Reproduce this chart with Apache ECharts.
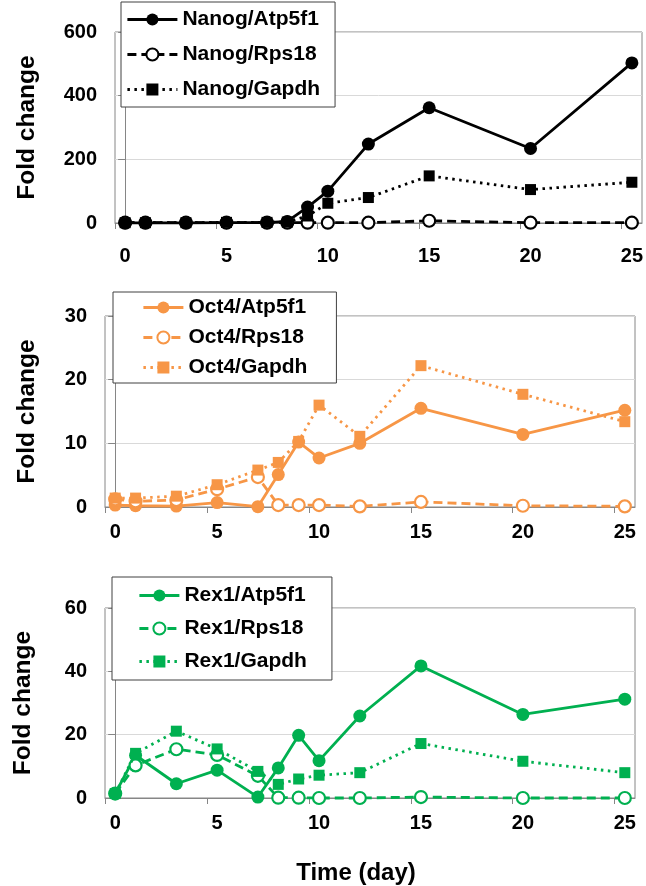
<!DOCTYPE html>
<html>
<head>
<meta charset="utf-8">
<script src="https://cdn.jsdelivr.net/npm/echarts@6/dist/echarts.min.js"></script>
<style>
html,body{margin:0;padding:0;background:#fff;}
#chart{width:646px;height:886px;}
</style>
</head>
<body>
<div id="chart"></div>
<script>
// ---- data ----
const days = [0, 1, 3, 5, 7, 8, 9, 10, 12, 15, 20, 25];

const nanogAtp5f1 = [0.5, 0.5, 0.5, 1, 1, 5, 50, 100, 248, 362, 234, 503];
const nanogRps18  = [1, 1, 1, 1, 1, 1, 1, 1, 1, 7, 1, 1];
const nanogGapdh  = [1, 1, 1, 2, 2, 3, 22, 62, 80, 148, 105, 128];

const oct4Atp5f1 = [0.3, 0.2, 0.15, 0.7, 0.05, 5.1, 10.2, 7.7, 10.0, 15.5, 11.4, 15.2];
const oct4Rps18  = [1.2, 0.9, 1.1, 2.8, 4.7, 0.3, 0.3, 0.3, 0.1, 0.8, 0.2, 0.1];
const oct4Gapdh  = [1.4, 1.4, 1.7, 3.5, 5.8, 7.0, 10.3, 16.0, 11.1, 22.2, 17.7, 13.4];

const rex1Atp5f1 = [1.4, 13.5, 4.5, 8.8, 0.3, 9.5, 19.8, 11.8, 25.9, 41.7, 26.4, 31.2];
const rex1Rps18  = [1.4, 10.3, 15.4, 13.6, 7.0, 0.1, 0.1, 0, 0, 0.3, 0, 0];
const rex1Gapdh  = [1.4, 14.1, 21.1, 15.5, 8.4, 4.3, 6.0, 7.2, 8.0, 17.2, 11.6, 8.0];

const xLabelValues = [0, 5, 10, 15, 20, 25];
const xTickValues = [-0.5, 4.5, 9.5, 14.5, 19.5, 24.5];

const panels = [
  { names: ['Nanog/Atp5f1', 'Nanog/Rps18', 'Nanog/Gapdh'], values: [nanogAtp5f1, nanogRps18, nanogGapdh], yMax: 600, yStep: 200, color: '#000000' },
  { names: ['Oct4/Atp5f1', 'Oct4/Rps18', 'Oct4/Gapdh'], values: [oct4Atp5f1, oct4Rps18, oct4Gapdh], yMax: 30, yStep: 10, color: '#f79646' },
  { names: ['Rex1/Atp5f1', 'Rex1/Rps18', 'Rex1/Gapdh'], values: [rex1Atp5f1, rex1Rps18, rex1Gapdh], yMax: 60, yStep: 20, color: '#00b050' }
];
const yAxisTitle = 'Fold change';
const xAxisTitle = 'Time (day)';

// ---- layout ----
const FONT = '"Liberation Sans", Arial, sans-serif';
const grids = [
  { left: 115, top: 32, width: 528, height: 191 },
  { left: 105, top: 316, width: 530, height: 191 },
  { left: 105, top: 608, width: 530, height: 190 }
];
const xLabelMargin = [23, 15, 15];
const legendLayouts = [
  { left: 121, top: 2, itemWidth: 50, itemGap: 14, padding: [7, 15, 7, 5] },
  { left: 113, top: 292, itemWidth: 40, itemGap: 9, padding: [5, 29, 5, 29] },
  { left: 112, top: 577, itemWidth: 40, itemGap: 12, padding: [8, 25, 8, 26] }
];

const styles = [
  { symbol: 'circle', size: 13, dash: 'solid', fill: null },
  { symbol: 'circle', size: 12, dash: [9, 5], fill: '#ffffff' },
  { symbol: 'rect', size: 11, dash: [2.5, 4.5], fill: null }
];
const LINE_W = 2.8;

const axisGray = '#868686';
const option = {
  backgroundColor: '#ffffff',
  animation: false,
  grid: grids.map(g => Object.assign({ show: true, borderColor: axisGray, borderWidth: 1, backgroundColor: 'transparent' }, g)),
  xAxis: grids.map((g, i) => ({
    type: 'value', gridIndex: i, min: -0.5, max: 25.5,
    axisLine: { show: true, onZero: false, lineStyle: { color: axisGray, width: 1 } },
    axisTick: { show: true, customValues: xTickValues, length: 6, lineStyle: { color: axisGray } },
    axisLabel: { customValues: xLabelValues, margin: xLabelMargin[i], color: '#000', fontSize: 20, fontWeight: 'bold', fontFamily: FONT },
    splitLine: { show: false }
  })),
  yAxis: panels.map((p, i) => ({
    type: 'value', gridIndex: i, min: 0, max: p.yMax, interval: p.yStep,
    axisLine: { show: true, lineStyle: { color: axisGray, width: 1 } },
    axisTick: { show: true, length: 7, lineStyle: { color: axisGray } },
    axisLabel: { margin: 18, color: '#000', fontSize: 20, fontWeight: 'bold', fontFamily: FONT },
    splitLine: { show: true, lineStyle: { color: '#d9d9d9', width: 1 } }
  })),
  legend: panels.map((p, i) => Object.assign({
    orient: 'vertical',
    data: p.names.map((n, k) => ({
      name: n,
      lineStyle: { color: p.color, width: LINE_W, type: styles[k].dash }
    })),
    itemHeight: 15,
    backgroundColor: '#ffffff',
    borderColor: '#404040',
    borderWidth: 1,
    borderRadius: 0,
    selectedMode: false,
    textStyle: { color: '#000', fontSize: 21, fontWeight: 'bold', fontFamily: FONT },
    z: 10
  }, legendLayouts[i])),
  series: [],
  graphic: []
};

panels.forEach((p, i) => {
  p.values.forEach((vals, k) => {
    const st = styles[k];
    option.series.push({
      type: 'line',
      name: p.names[k],
      xAxisIndex: i,
      yAxisIndex: i,
      data: days.map((d, j) => [d, vals[j]]),
      symbol: st.symbol,
      symbolSize: st.size,
      clip: false,
      color: p.color,
      lineStyle: { color: p.color, width: LINE_W, type: st.dash },
      itemStyle: st.fill ? { color: st.fill, borderColor: p.color, borderWidth: 2.2 } : { color: p.color, borderWidth: 0 },
      emphasis: { disabled: true },
      z: 3 + k
    });
  });
  const g = grids[i];
  option.graphic.push({
    type: 'text',
    x: i === 2 ? 23 : 27,
    y: g.top + g.height / 2,
    rotation: Math.PI / 2,
    style: { text: yAxisTitle, fill: '#000', font: 'bold 24.5px ' + FONT, align: 'center', verticalAlign: 'middle' }
  });
});

option.graphic.push({
  type: 'text',
  x: 356,
  y: 873,
  style: { text: xAxisTitle, fill: '#000', font: 'bold 24px ' + FONT, align: 'center', verticalAlign: 'middle' }
});

const chart = echarts.init(document.getElementById('chart'), null, { renderer: 'canvas' });
chart.setOption(option);
</script>
</body>
</html>
